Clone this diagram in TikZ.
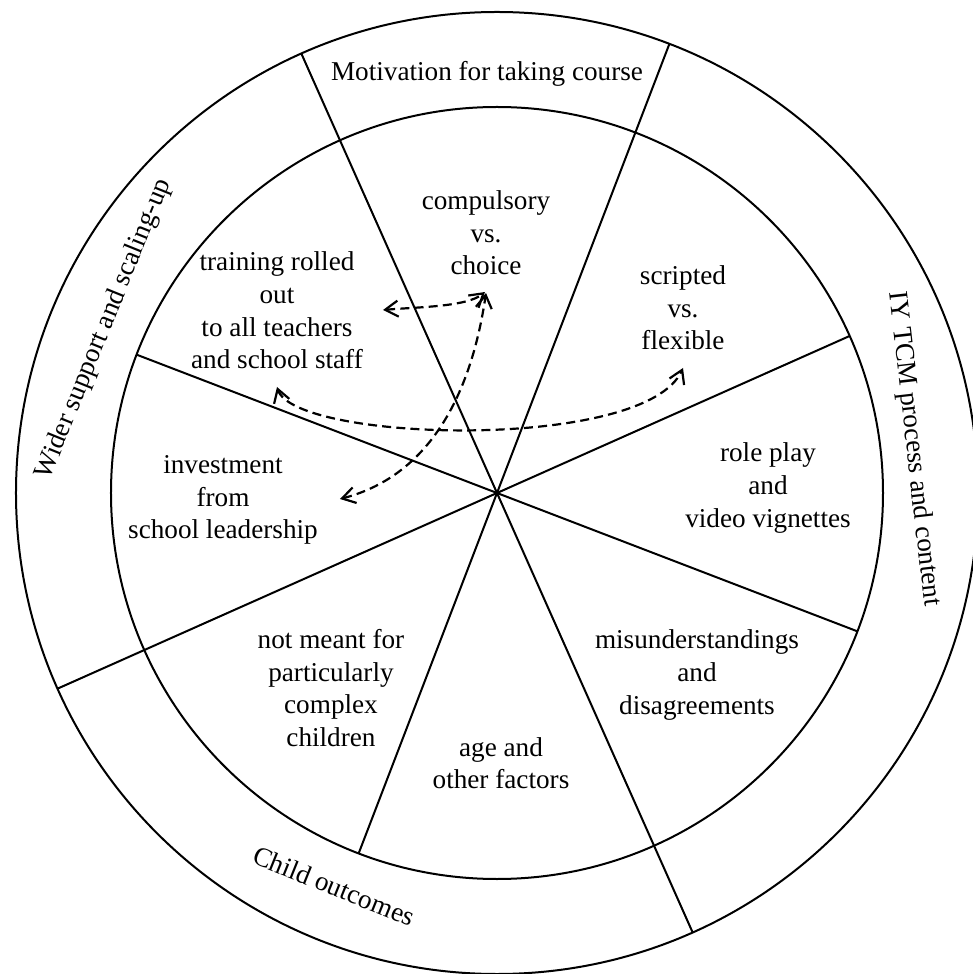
\documentclass[tikz,border=0pt]{standalone}
\usepackage{fontspec}
\setmainfont{Liberation Serif}
\usetikzlibrary{arrows.meta}

\begin{document}
\begin{tikzpicture}[x=0.5pt,y=0.5pt,
  ring/.style={line width=1pt},
  spoke/.style={line width=1pt},
  label/.style={align=center, inner sep=0pt,
    font=\fontsize{13.6}{16.3}\selectfont},
  barb/.tip={Straight Barb[length=6.5pt,width=8pt,line width=1.1pt]},
  link/.style={line width=1.1pt, dash pattern=on 4.5pt off 2.6pt, barb-barb}
]
\useasboundingbox (-497,-481) rectangle (476,493);

% centre, rings
\coordinate (c) at (0,0);
\draw[ring] (c) circle[radius=481];
\draw[ring] (c) circle[radius=386];

% spokes of the inner wheel
\foreach \a in {24,159,249,339}
  \draw[spoke] (c) -- (\a:386);
% spokes that also split the outer ring
\foreach \a in {69,114,204,294}
  \draw[spoke] (c) -- (\a:481);

% outer ring headings
\node[label] (mot) at (-10,419) {Motivation for taking course};
\node[label, rotate=-83.5] (iy) at (416.5,44) {IY TCM process and content};
\node[label, rotate=-22] (child) at (-163,-393) {Child outcomes};
\node[label, rotate=68] (wider) at (-393,164) {Wider support and scaling-up};

% inner sectors
\node[label] (comp) at (-11,260) {compulsory\\vs.\\choice};
\node[label] (script) at (186,185) {scripted\\vs.\\flexible};
\node[label] (train) at (-220,182.5) {training rolled\\out\\to all teachers\\and school staff};
\node[label] (invest) at (-274,-7) {investment\\from\\school leadership};
\node[label] (role) at (271,5) {role play\\and\\video vignettes};
\node[label] (mis) at (200,-182) {misunderstandings\\and\\disagreements};
\node[label] (age) at (4,-270) {age and\\other factors};
\node[label] (notm) at (-166,-195) {not meant for\\particularly\\complex\\children};

% ends of the dashed links
\coordinate (trainR) at (-114,183);
\coordinate (compB) at (-12,201);
\coordinate (compB2) at (-11,200);
\coordinate (investR) at (-157,-6);
\coordinate (trainB) at (-220,106);
\coordinate (scriptB) at (186,125);

\draw[link] (trainR) .. controls (-80,186) and (-30,186) .. (compB);
\draw[link] (investR) .. controls (-72,16) and (-27,91) .. (compB2);
\draw[link] (trainB) .. controls (-202,51) and (148,41) .. (scriptB);
\end{tikzpicture}
\end{document}
